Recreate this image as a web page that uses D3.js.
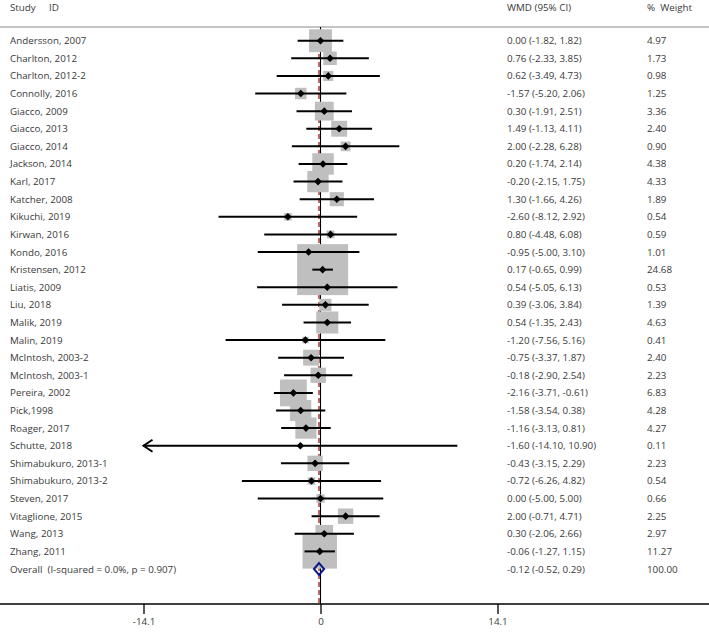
<!DOCTYPE html>
<html><head><meta charset="utf-8">
<script src="https://cdn.jsdelivr.net/npm/d3@7"></script>
<style>body{margin:0;background:#fff}text{font-family:"Open Sans",sans-serif;fill:#3a3a3a}</style>
</head><body>
<svg id="c" width="709" height="632"></svg>
<script>
const studies = ["Andersson, 2007","Charlton, 2012","Charlton, 2012-2","Connolly, 2016","Giacco, 2009","Giacco, 2013","Giacco, 2014","Jackson, 2014","Karl, 2017","Katcher, 2008","Kikuchi, 2019","Kirwan, 2016","Kondo, 2016","Kristensen, 2012","Liatis, 2009","Liu, 2018","Malik, 2019","Malin, 2019","McIntosh, 2003-2","McIntosh, 2003-1","Pereira, 2002","Pick,1998","Roager, 2017","Schutte, 2018","Shimabukuro, 2013-1","Shimabukuro, 2013-2","Steven, 2017","Vitaglione, 2015","Wang, 2013","Zhang, 2011"];
const wmd   = [0.00,0.76,0.62,-1.57,0.30,1.49,2.00,0.20,-0.20,1.30,-2.60,0.80,-0.95,0.17,0.54,0.39,0.54,-1.20,-0.75,-0.18,-2.16,-1.58,-1.16,-1.60,-0.43,-0.72,0.00,2.00,0.30,-0.06];
const lower = [-1.82,-2.33,-3.49,-5.20,-1.91,-1.13,-2.28,-1.74,-2.15,-1.66,-8.12,-4.48,-5.00,-0.65,-5.05,-3.06,-1.35,-7.56,-3.37,-2.90,-3.71,-3.54,-3.13,-14.10,-3.15,-6.26,-5.00,-0.71,-2.06,-1.27];
const upper = [1.82,3.85,4.73,2.06,2.51,4.11,6.28,2.14,1.75,4.26,2.92,6.08,3.10,0.99,6.13,3.84,2.43,5.16,1.87,2.54,-0.61,0.38,0.81,10.90,2.29,4.82,5.00,4.71,2.66,1.15];
const weight= [4.97,1.73,0.98,1.25,3.36,2.40,0.90,4.38,4.33,1.89,0.54,0.59,1.01,24.68,0.53,1.39,4.63,0.41,2.40,2.23,6.83,4.28,4.27,0.11,2.23,0.54,0.66,2.25,2.97,11.27];
const overall = {label:"Overall  (I-squared = 0.0%, p = 0.907)", wmd:-0.12, lower:-0.52, upper:0.29, weight:100.00};
const tickVals = [-14.1, 0, 14.1];
const tickLabels = ["-14.1","0","14.1"];

const svg = d3.select("#c");
const W = 709;
const x = d3.scaleLinear().domain([-14.1, 14.1]).range([143.5, 497.5]);
const y = d3.scaleLinear().domain([0, 30]).range([40.7, 569]);
const side = d3.scaleSqrt().domain([0, 24.68]).range([0, 51]);
const fs = 9.8;
const axisY = 604;

// header
svg.append("text").attr("x",10).attr("y",11).attr("font-size",fs).text("Study");
svg.append("text").attr("x",49).attr("y",11).attr("font-size",fs).text("ID");
svg.append("text").attr("x",507).attr("y",11).attr("font-size",fs).text("WMD (95% CI)");
svg.append("text").attr("x",647).attr("y",11).attr("font-size",fs).attr("xml:space","preserve").text("%  Weight");
svg.append("line").attr("x1",0).attr("x2",W).attr("y1",27).attr("y2",27).attr("stroke","#c4c4c4").attr("stroke-width",1.8);

// vertical lines
svg.append("line").attr("x1",x(0)).attr("x2",x(0)).attr("y1",27).attr("y2",axisY).attr("stroke","#000").attr("stroke-width",1.1);
svg.append("line").attr("x1",x(overall.wmd)).attr("x2",x(overall.wmd)).attr("y1",30).attr("y2",axisY).attr("stroke","#9b1b1b").attr("stroke-width",1.3).attr("stroke-dasharray","5,3");

const rows = studies.map((s,i)=>({s, m:wmd[i], lo:lower[i], hi:upper[i], w:weight[i], i}));

// boxes
svg.append("g").selectAll("rect").data(rows).join("rect")
  .attr("x",d=>x(d.m)-side(d.w)/2).attr("y",d=>y(d.i)-side(d.w)/2)
  .attr("width",d=>side(d.w)).attr("height",d=>side(d.w)).attr("fill","#bfbfbf");

// CI lines
const clip = v => Math.max(-14.1, Math.min(14.1, v));
svg.append("g").selectAll("line").data(rows).join("line")
  .attr("x1",d=>x(clip(d.lo))).attr("x2",d=>x(clip(d.hi)))
  .attr("y1",d=>y(d.i)).attr("y2",d=>y(d.i)).attr("stroke","#000").attr("stroke-width",2);

// arrows for truncated CIs
rows.filter(d=>d.lo<=-14.1).forEach(d=>{
  const ax = x(-14.1), ay = y(d.i);
  svg.append("path").attr("d",`M${ax+9},${ay-6}L${ax},${ay}L${ax+9},${ay+6}`)
    .attr("fill","none").attr("stroke","#000").attr("stroke-width",2);
});

// point markers
svg.append("g").selectAll("path").data(rows).join("path")
  .attr("d",d=>{const cx=x(d.m), cy=y(d.i), r=3.8; return `M${cx},${cy-r}L${cx+r},${cy}L${cx},${cy+r}L${cx-r},${cy}Z`;})
  .attr("fill","#000");

// overall diamond
{
  const cy = y(30);
  svg.append("path").attr("d",`M${x(overall.lower)},${cy}L${x(overall.wmd)},${cy-6}L${x(overall.upper)},${cy}L${x(overall.wmd)},${cy+6}Z`)
    .attr("fill","none").attr("stroke","#0a1a8a").attr("stroke-width",2);
}

// text columns
const f2 = v => d3.format(".2f")(v).replace("\u2212","-");
const allRows = rows.concat([{s:overall.label, m:overall.wmd, lo:overall.lower, hi:overall.upper, w:overall.weight, i:30}]);
const tg = svg.append("g").attr("font-size",fs);
tg.selectAll(".lab").data(allRows).join("text").attr("class","lab").attr("x",10).attr("y",d=>y(d.i)+3.5).attr("xml:space","preserve").text(d=>d.s);
tg.selectAll(".ci").data(allRows).join("text").attr("class","ci").attr("x",507).attr("y",d=>y(d.i)+3.5)
  .text(d=>`${f2(d.m)} (${f2(d.lo)}, ${f2(d.hi)})`);
tg.selectAll(".wt").data(allRows).join("text").attr("class","wt").attr("x",647).attr("y",d=>y(d.i)+3.5).text(d=>f2(d.w));

// axis
svg.append("line").attr("x1",0).attr("x2",W).attr("y1",axisY).attr("y2",axisY).attr("stroke","#000").attr("stroke-width",1.3);
const axis = d3.axisBottom(x).tickValues(tickVals).tickFormat((d,i)=>tickLabels[i]).tickSize(10).tickPadding(4);
const ag = svg.append("g").attr("transform",`translate(0,${axisY})`).call(axis);
ag.select(".domain").remove();
ag.selectAll(".tick line").attr("stroke","#000").attr("stroke-width",1.3);
ag.selectAll(".tick text").attr("font-size",fs).attr("font-family","Open Sans, sans-serif").style("fill","#3a3a3a");
</script>
</body></html>
